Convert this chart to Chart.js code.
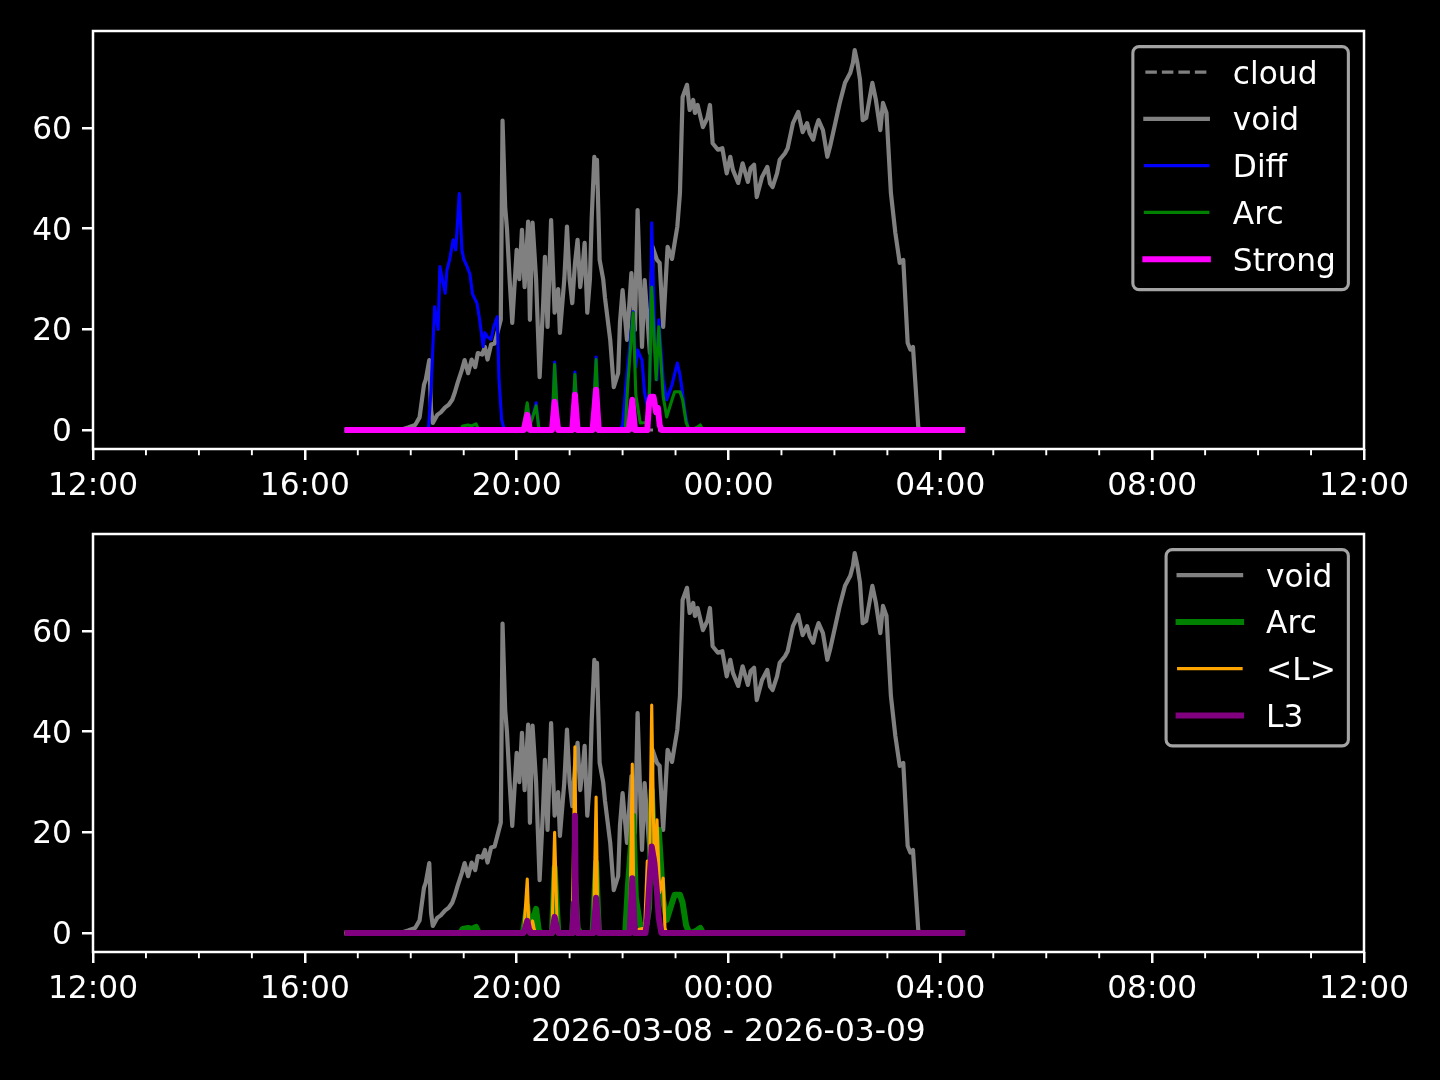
<!DOCTYPE html>
<html>
<head>
<meta charset="utf-8">
<script src="https://cdn.jsdelivr.net/npm/chart.js"></script>
<style>
  html, body { margin: 0; padding: 0; background: #000; }
  body { width: 1440px; height: 1080px; position: relative; overflow: hidden; }
  canvas { position: absolute; left: 0; }
  #top { top: 0; }
  #bottom { top: 504px; }
</style>
</head>
<body>
<canvas id="top" width="1440" height="504"></canvas>
<canvas id="bottom" width="1440" height="576"></canvas>
<script>
// axis ticks (hours after 12:00 on the first day)
const xTickHours = [0, 4, 8, 12, 16, 20, 24];
const xTickLabels = ['12:00', '16:00', '20:00', '00:00', '04:00', '08:00', '12:00'];
const yTicks = [0, 20, 40, 60];
const xTitle = '2026-03-08 - 2026-03-09';

// cloud
const cloudT = ['16:45', '04:28'];
const cloudV = [0, 0];

// void
const voidT = [
  '16:45','17:48','17:57','18:05','18:10','18:15','18:17','18:21','18:23','18:25',
  '18:30','18:34','18:39','18:43','18:47','18:50','18:53','18:58','19:01','19:05',
  '19:09','19:13','19:16','19:21','19:24','19:27','19:31','19:35','19:39','19:42',
  '19:44','19:47','19:49','19:52','19:55','19:58','20:00','20:03','20:06','20:09',
  '20:13','20:15','20:18','20:22','20:26','20:30','20:32','20:35','20:39','20:43',
  '20:47','20:49','20:54','20:57','21:00','21:03','21:06','21:09','21:12','21:15',
  '21:17','21:20','21:23','21:25','21:28','21:30','21:31','21:34','21:38','21:40',
  '21:46','21:50','21:55','21:57','22:00','22:05','22:10','22:14','22:17','22:22',
  '22:25','22:31','22:34','22:39','22:42','22:46','22:51','22:56','23:02','23:05',
  '23:08','23:13','23:16','23:20','23:22','23:25','23:31','23:36','23:39','23:42',
  '23:48','23:53','23:58','00:02','00:05','00:11','00:16','00:22','00:25','00:29',
  '00:32','00:38','00:44','00:47','00:50','00:55','00:58','01:04','01:07','01:13',
  '01:19','01:24','01:29','01:32','01:36','01:39','01:42','01:47','01:52','01:55',
  '02:01','02:06','02:12','02:18','02:21','02:23','02:26','02:29','02:32','02:36',
  '02:38','02:43','02:47','02:52','02:55','02:59','03:04','03:09','03:14','03:18',
  '03:23','03:26','03:29','03:35','03:37','04:28'
];
const voidV = [
  0, 0, 0.5, 1, 2.5, 9, 10, 13.9, 4, 1.4,
  3, 3.5, 4.5, 5, 6, 7.5, 9.3, 12, 13.9, 11.3,
  14, 12.5, 15.3, 15, 16.5, 14, 17, 17.2, 19.9, 21.9,
  61.5, 44.3, 40, 30, 21.3, 30, 35.8, 30, 39.8, 28.4,
  41.4, 21.9, 41.2, 30, 10.5, 25, 34.4, 20.5, 41.7, 23.3,
  28, 19.3, 30, 40.4, 30, 25.2, 33, 37.8, 28.4, 33,
  37.2, 23.3, 30, 42, 54.3, 49.1, 53.7, 33.8, 30, 26.4,
  17.9, 8.5, 11.3, 21.3, 27.8, 17.9, 31.2, 19.9, 43.7, 16.5,
  29.8, 15.3, 36.4, 33.8, 33.2, 20.5, 36.4, 34, 40.4, 47.1,
  66.2, 68.6, 63.6, 65.6, 63, 64.6, 60.2, 62, 64.6, 57,
  55.7, 56, 51, 54.3, 51.7, 49.1, 53, 49.3, 52, 52.7,
  46.3, 50.3, 52.3, 49, 48.3, 51, 53.7, 55, 56, 61,
  63.2, 59.2, 61, 59, 57.7, 60, 61.6, 59.6, 54.3, 56.3,
  61, 65, 69, 71, 73, 75.5, 73, 69.6, 61.6, 62,
  64, 69, 65.6, 59.6, 65, 63, 47.1, 39.2, 33.2, 33.8,
  17.3, 16, 16.5, 0.6, 0, 0
];

// Diff
const diffT = [
  '16:45','18:20','18:23','18:27','18:31','18:33','18:36','18:39','18:41','18:44',
  '18:48','18:51','18:55','18:58','19:00','19:04','19:07','19:10','19:15','19:18',
  '19:22','19:24','19:27','19:31','19:34','19:38','19:40','19:43','19:46','20:08',
  '20:12','20:15','20:18','20:22','20:25','20:28','20:40','20:43','20:47','20:49',
  '21:03','21:06','21:09','21:12','21:26','21:30','21:33','21:35','21:57','22:00',
  '22:05','22:12','22:15','22:17','22:22','22:25','22:29','22:31','22:33','22:37',
  '22:39','22:41','22:46','22:50','22:56','23:02','23:05','23:07','23:11','23:14',
  '23:18','23:28','23:31','04:28'
];
const diffV = [
  0, 0, 8, 24.5, 20, 32.5, 29.8, 27.2, 31.8, 33.8,
  37.8, 35.8, 47, 35.8, 34, 32.4, 31, 27, 25.2, 22,
  16.6, 19.3, 18.5, 18, 20.5, 22.5, 10, 2, 0, 0,
  5, 1.5, 2.5, 5.4, 0.5, 0, 0, 13.5, 0.5, 0,
  0, 11.5, 1, 0, 0, 14.5, 0.5, 0, 0, 1,
  11.3, 23.5, 12.5, 15.9, 13.9, 7.3, 4, 10, 41.2, 15,
  10, 21.9, 10, 6, 9, 13.3, 11, 8.5, 3.3, 0.5,
  0, 0.5, 0, 0
];

// Arc
const arcT = [
  '16:45','18:56','18:59','19:05','19:09','19:14','19:17','20:07','20:12','20:15',
  '20:18','20:22','20:25','20:28','20:40','20:43','20:47','20:49','21:03','21:06',
  '21:09','21:12','21:26','21:30','21:33','21:35','22:03','22:06','22:12','22:15',
  '22:20','22:27','22:30','22:33','22:38','22:41','22:46','22:50','22:56','22:59',
  '23:05','23:08','23:12','23:15','23:18','23:24','23:28','23:31','04:28'
];
const arcV = [
  0, 0, 0.8, 1, 0.8, 1.2, 0, 0, 5.4, 1,
  2.5, 4.8, 0.5, 0, 0, 13, 0.5, 0, 0, 11,
  1, 0, 0, 14, 0.5, 0, 0, 9.3, 23.3, 7,
  1.4, 1.5, 5, 28.4, 10, 20.5, 6.6, 2.6, 6, 7.6,
  7.6, 6, 1.5, 0.2, 0, 0.5, 1, 0, 0
];

// Strong
const strongT = ['16:45','20:08','20:12','20:15','20:40','20:43','20:47','21:03','21:06','21:09',
  '21:26','21:30','21:33','22:07','22:11','22:14','22:28','22:30','22:32','22:35',
  '22:38','22:40','22:42','22:44','04:28'];
const strongV = [0, 0, 3, 0, 0, 5.6, 0, 0, 7, 0,
  0, 8, 0, 0, 6, 0, 0, 5.5, 6.6, 6.6,
  3.5, 4.4, 1, 0, 0];

// <L>
const meanLT = ['16:45','20:08','20:12','20:14','20:15','20:18','20:21','20:40','20:43','20:46',
  '20:48','21:03','21:06','21:08','21:10','21:27','21:30','21:32','21:34','22:08',
  '22:11','22:13','22:25','22:28','22:30','22:33','22:36','22:39','22:42','22:46',
  '22:48','22:50','04:28'];
const meanLV = [0, 0, 10.7, 0.5, 0, 2.4, 0, 0, 20, 0.5,
  0, 0, 37, 0.5, 0, 0, 27, 0.5, 0, 0,
  33.6, 0.5, 1, 14.3, 6, 45.3, 12, 22.5, 8, 10.9,
  1, 0, 0];

// L3
const l3T = ['16:45','20:08','20:12','20:15','20:40','20:43','20:47','21:03','21:05','21:06',
  '21:07','21:09','21:27','21:30','21:33','22:08','22:11','22:14','22:26','22:28',
  '22:31','22:33','22:36','22:39','22:41','22:44','04:28'];
const l3V = [0, 0, 2.4, 0, 0, 3.2, 0, 0, 6, 23.3,
  6, 0, 0, 7, 0, 0, 10.9, 0, 0, 3,
  12, 17.2, 14, 8, 3, 0, 0];

const FS = 31.25;
Chart.defaults.font.family = '"DejaVu Sans", sans-serif';
Chart.defaults.font.size = FS;
Chart.defaults.color = '#fff';

// 'HH:MM' -> hours after 12:00 of the first day
function hrs(t) {
  const [h, m] = t.split(':').map(Number);
  return ((h + 12) % 24) + m / 60;
}
function pts(times, vals) {
  return times.map((t, i) => ({ x: hrs(t), y: vals[i] }));
}

// full box of spines + hourly minor ticks
const frame = {
  id: 'frame',
  afterDatasetsDraw(chart) {
    const { ctx, chartArea: a } = chart;
    const x = chart.scales.x;
    ctx.save();
    ctx.strokeStyle = '#fff';
    ctx.lineWidth = 2.5;
    ctx.strokeRect(a.left, a.top, a.right - a.left, a.bottom - a.top);
    ctx.lineWidth = 1.9;
    ctx.beginPath();
    for (let h = 0; h <= 24; h++) {
      if (xTickHours.includes(h)) continue;
      const px = x.getPixelForValue(h);
      ctx.moveTo(px, a.bottom);
      ctx.lineTo(px, a.bottom + 6.25);
    }
    ctx.stroke();
    ctx.restore();
  }
};

// matplotlib-like legend box in the upper right corner
const boxLegend = {
  id: 'boxLegend',
  afterDraw(chart) {
    const { ctx, chartArea: a } = chart;
    const sets = chart.data.datasets;
    ctx.save();
    ctx.font = FS + 'px "DejaVu Sans"';
    const textW = Math.max(...sets.map(d => ctx.measureText(d.label).width));
    const pad = 0.4 * FS, handle = 2 * FS, gap = 0.8 * FS, pitch = 46.75;
    const w = pad + handle + gap + textW + pad;
    const h = 25.5 + pitch * (sets.length - 1) + 30.5;
    const right = a.right - 0.5 * FS;
    const top = a.top + 0.5 * FS;
    const left = right - w;

    ctx.beginPath();
    ctx.roundRect(left, top, w, h, 0.2 * FS);
    ctx.fillStyle = 'rgba(0,0,0,0.8)';
    ctx.fill();
    ctx.lineWidth = 3.1;
    ctx.strokeStyle = '#a3a3a3';
    ctx.stroke();

    sets.forEach((d, i) => {
      const y = top + 25.5 + i * pitch;
      ctx.beginPath();
      ctx.strokeStyle = d.borderColor;
      ctx.lineWidth = d.borderWidth;
      ctx.setLineDash(d.borderDash || []);
      ctx.lineCap = d.borderDash ? 'butt' : 'square';
      ctx.moveTo(left + pad, y);
      ctx.lineTo(left + pad + handle, y);
      ctx.stroke();
      ctx.setLineDash([]);
      ctx.fillStyle = '#fff';
      ctx.textBaseline = 'alphabetic';
      ctx.textAlign = 'left';
      ctx.fillText(d.label, left + pad + handle + gap, y + 0.365 * FS);
    });
    ctx.restore();
  }
};

function makeOptions(padTop, xHeight, withTitle) {
  return {
    responsive: false,
    animation: false,
    layout: { padding: { top: padTop, right: 76, left: 0, bottom: 0 } },
    elements: {
      point: { radius: 0 },
      line: { tension: 0, borderJoinStyle: 'round', borderCapStyle: 'butt' }
    },
    plugins: { legend: { display: false }, tooltip: { enabled: false } },
    scales: {
      x: {
        type: 'linear',
        min: 0,
        max: 24,
        afterBuildTicks: s => { s.ticks = xTickHours.map(v => ({ value: v })); },
        afterFit: s => { s.height = xHeight; },
        ticks: {
          autoSkip: false,
          maxRotation: 0,
          padding: 8,
          callback: (v, i) => xTickLabels[i]
        },
        grid: { drawOnChartArea: false, tickLength: 11, color: '#fff', lineWidth: 2.5 },
        border: { display: false },
        title: {
          display: withTitle,
          text: xTitle,
          color: '#fff',
          font: { size: FS },
          padding: { top: 0, bottom: 28 }
        }
      },
      y: {
        min: -3.78,
        max: 79.3,
        afterBuildTicks: s => { s.ticks = yTicks.map(v => ({ value: v })); },
        afterFit: s => { s.width = 93; },
        ticks: { padding: 10, labelOffset: 3 },
        grid: { drawOnChartArea: false, tickLength: 11, color: '#fff', lineWidth: 2.5 },
        border: { display: false }
      }
    }
  };
}

// top panel: first dataset listed is drawn lowest (higher order = further back)
const topSets = [
  { label: 'cloud', data: pts(cloudT, cloudV), borderColor: '#808080', borderWidth: 3.1, borderDash: [11.5, 5] },
  { label: 'void', data: pts(voidT, voidV), borderColor: '#808080', borderWidth: 4.2 },
  { label: 'Diff', data: pts(diffT, diffV), borderColor: '#0000ff', borderWidth: 3.1 },
  { label: 'Arc', data: pts(arcT, arcV), borderColor: '#008000', borderWidth: 3.1 },
  { label: 'Strong', data: pts(strongT, strongV), borderColor: '#ff00ff', borderWidth: 6 }
];
topSets.forEach((d, i) => { d.order = topSets.length - i; });

const bottomSets = [
  { label: 'void', data: pts(voidT, voidV), borderColor: '#808080', borderWidth: 4.2 },
  { label: 'Arc', data: pts(arcT, arcV), borderColor: '#008000', borderWidth: 6 },
  { label: '<L>', data: pts(meanLT, meanLV), borderColor: '#ffa500', borderWidth: 3.1 },
  { label: 'L3', data: pts(l3T, l3V), borderColor: '#800080', borderWidth: 6 }
];
bottomSets.forEach((d, i) => { d.order = bottomSets.length - i; });

new Chart(document.getElementById('top'), {
  type: 'line',
  data: { datasets: topSets },
  options: makeOptions(31, 55, false),
  plugins: [frame, boxLegend]
});

new Chart(document.getElementById('bottom'), {
  type: 'line',
  data: { datasets: bottomSets },
  options: makeOptions(30, 128, true),
  plugins: [frame, boxLegend]
});
</script>
</body>
</html>
